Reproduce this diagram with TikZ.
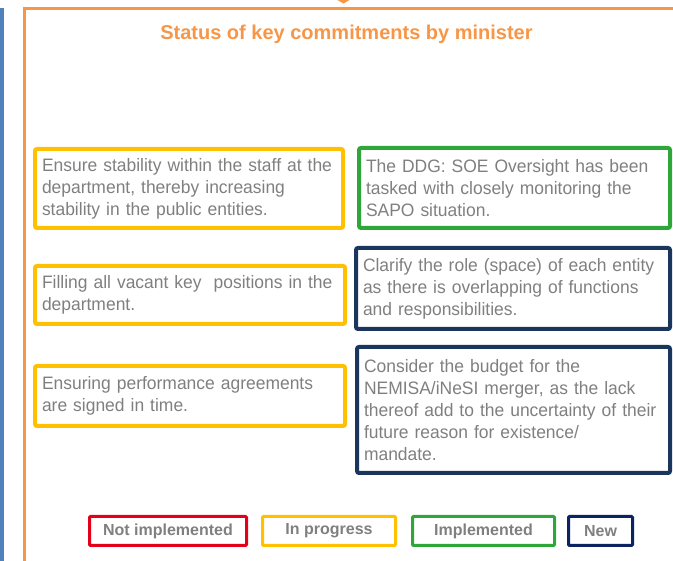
\documentclass[tikz,border=0pt]{standalone}
\usepackage{fontspec,xcolor,tikz}
\setmainfont{Liberation Sans}
\newfontfamily\bodyfont[FakeStretch=0.97]{Liberation Sans}
\definecolor{frameorange}{HTML}{F79646}
\definecolor{sideblue}{HTML}{4F81BD}
\definecolor{txtgray}{HTML}{7F7F7F}
\definecolor{boxyellow}{HTML}{FFC000}
\definecolor{boxgreen}{HTML}{2FA63A}
\definecolor{boxnavy}{HTML}{1B365D}
\definecolor{keyred}{HTML}{E2001A}
\definecolor{keynavy}{HTML}{0B2263}

\begin{document}
\begin{tikzpicture}[x=1pt,y=-1pt,
  box/.style={draw,rounded corners=2pt,line width=4pt,align=left,inner xsep=7pt,inner ysep=0pt,font=\bodyfont\fontsize{18}{22}\selectfont,text=txtgray},
  yel/.style={box,draw=boxyellow},
  grn/.style={box,draw=boxgreen},
  nav/.style={box,draw=boxnavy},
  key/.style={draw,rounded corners=1pt,line width=3pt,minimum height=29pt,inner sep=0pt,font=\fontsize{16}{18}\selectfont\bfseries,text=txtgray}]
  \useasboundingbox (0,0) rectangle (673,561);
  % frame and side bar
  \draw[sideblue,line width=4pt] (2,8) -- (2,561);
  \draw[frameorange,line width=3pt] (24,561) -- (24,8.5) -- (673,8.5);
  \fill[frameorange] (334,-2) -- (353,-2) -- (343.5,3.5) -- cycle;
  \node[text=frameorange,font=\fontsize{20}{24}\selectfont\bfseries] (title) at (346.5,34) {Status of key commitments by minister};
  % commitments
  \node[yel,minimum width=308pt,minimum height=79pt,text width=294pt] (n1) at (189,188.5) {Ensure stability within the staff at the\\department, thereby increasing\\stability in the public entities.};
  \node[grn,minimum width=311pt,minimum height=80pt,text width=297pt] (n2) at (514.5,188) {The DDG: SOE Oversight has been\\tasked with closely monitoring the\\SAPO situation.};
  \node[yel,minimum width=310pt,minimum height=58pt,text width=296pt] (n3) at (190,295) {Filling all vacant key\ \ positions in the\\department.};
  \node[nav,minimum width=314pt,minimum height=81pt,text width=300pt] (n4) at (513,288.5) {Clarify the role (space) of each entity\\as there is overlapping of functions\\and responsibilities.};
  \node[yel,minimum width=310pt,minimum height=60pt,text width=296pt] (n5) at (190,396) {Ensuring performance agreements\\are signed in time.};
  \node[nav,minimum width=313pt,minimum height=126pt,text width=299pt] (n6) at (513.5,410) {Consider the budget for the\\NEMISA/iNeSI merger, as the lack\\thereof add to the uncertainty of their\\future reason for existence/\\mandate.};
  % legend
  \node[key,draw=keyred,minimum width=157pt] (k1) at (168,531) {Not implemented};
  \node[key,draw=boxyellow,minimum width=133pt] (k2) at (329,531) {In progress};
  \node[key,draw=boxgreen,minimum width=142pt] (k3) at (483.5,531) {Implemented};
  \node[key,draw=keynavy,minimum width=64pt] (k4) at (600.5,531) {New};
\end{tikzpicture}
\end{document}
